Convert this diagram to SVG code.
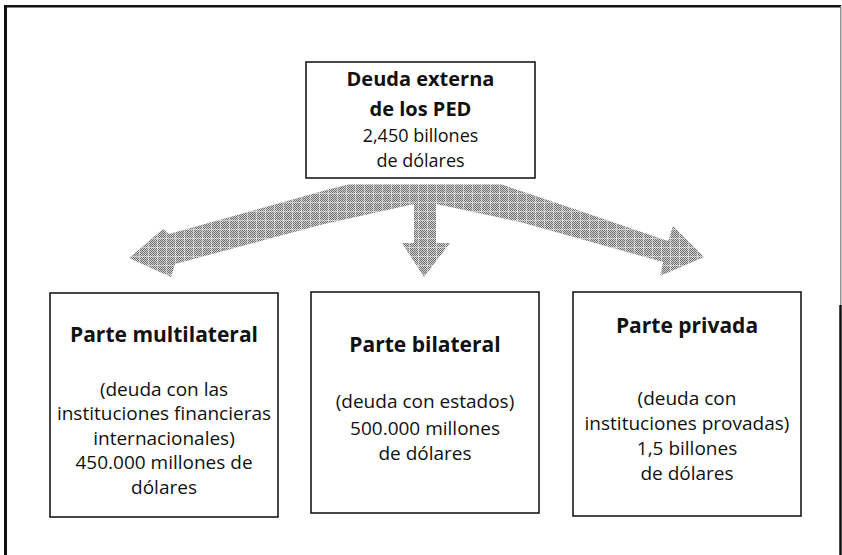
<svg xmlns="http://www.w3.org/2000/svg" width="842" height="555" viewBox="0 0 842 555">
<style>
  .box { fill: #ffffff; stroke: #1a1a1a; stroke-width: 1.6; }
  .t { font-family: "Open Sans", "Noto Sans", sans-serif; fill: #111; text-anchor: middle; }
  .h { font-weight: 700; font-size: 21px; }
  .ht { font-weight: 700; font-size: 20px; }
  .r { font-size: 19px; }
  .rs { font-size: 18px; }
</style>
<defs>
  <pattern id="halftone" width="2" height="2" patternUnits="userSpaceOnUse">
    <rect width="2" height="2" fill="#d2d2d2"/>
    <rect x="0" y="0" width="1" height="1" fill="#6e6e6e"/>
    <rect x="1" y="1" width="1" height="1" fill="#6e6e6e"/>
  </pattern>
  <pattern id="grid" width="9" height="9" patternUnits="userSpaceOnUse">
    <rect x="0" y="4" width="9" height="1" fill="#ffffff" opacity="0.45"/>
    <rect x="4" y="0" width="1" height="9" fill="#ffffff" opacity="0.45"/>
  </pattern>
</defs>
<rect width="842" height="555" fill="#ffffff"/>
<g id="frame">
  <line x1="5.5" y1="5" x2="5.5" y2="555" stroke="#111" stroke-width="3"/>
  <line x1="4" y1="6.3" x2="841" y2="6.3" stroke="#111" stroke-width="2.6"/>
  <line x1="840.8" y1="6" x2="840.8" y2="306" stroke="#777" stroke-width="1.2"/>
  <line x1="840.5" y1="305" x2="840.5" y2="555" stroke="#111" stroke-width="2.5"/>
</g>
<g id="connectors">
  <path id="arrows" d="M330,189 L350,184 L500,184 L530,194 L668,241 L673,226 L704,257 L660,276 L663,262 L520,222 L436,204 L436,243 L450,243 L424,277 L402,243 L414,243 L414,204 L320,225 L175,264 L171,277 L129,258 L163,229 L169,234 Z" fill="url(#halftone)"/>
  <path d="M330,189 L350,184 L500,184 L530,194 L668,241 L673,226 L704,257 L660,276 L663,262 L520,222 L436,204 L436,243 L450,243 L424,277 L402,243 L414,243 L414,204 L320,225 L175,264 L171,277 L129,258 L163,229 L169,234 Z" fill="url(#grid)"/>
</g>
<g id="node-top">
  <rect class="box" x="306" y="62" width="229" height="116" stroke-width="2"/>
  <text class="t ht" x="420.5" y="86">Deuda externa</text>
  <text class="t ht" x="420.5" y="116">de los PED</text>
  <text class="t rs" x="420.5" y="142">2,450 billones</text>
  <text class="t rs" x="420.5" y="167">de dólares</text>
</g>
<g id="node-multilateral">
  <rect class="box" x="50" y="293" width="228" height="224"/>
  <text class="t h" x="164" y="342">Parte multilateral</text>
  <text class="t r" x="164" y="396">(deuda con las</text>
  <text class="t r" x="164" y="420">instituciones financieras</text>
  <text class="t r" x="164" y="445">internacionales)</text>
  <text class="t r" x="164" y="469">450.000 millones de</text>
  <text class="t r" x="164" y="494">dólares</text>
</g>
<g id="node-bilateral">
  <rect class="box" x="311" y="292" width="228" height="221"/>
  <text class="t h" x="425" y="352">Parte bilateral</text>
  <text class="t r" x="425" y="408">(deuda con estados)</text>
  <text class="t r" x="425" y="435">500.000 millones</text>
  <text class="t r" x="425" y="460">de dólares</text>
</g>
<g id="node-privada">
  <rect class="box" x="573" y="292" width="228" height="224"/>
  <text class="t h" x="687" y="333">Parte privada</text>
  <text class="t r" x="687" y="405">(deuda con</text>
  <text class="t r" x="687" y="430">instituciones provadas)</text>
  <text class="t r" x="687" y="455">1,5 billones</text>
  <text class="t r" x="687" y="480">de dólares</text>
</g>
</svg>
